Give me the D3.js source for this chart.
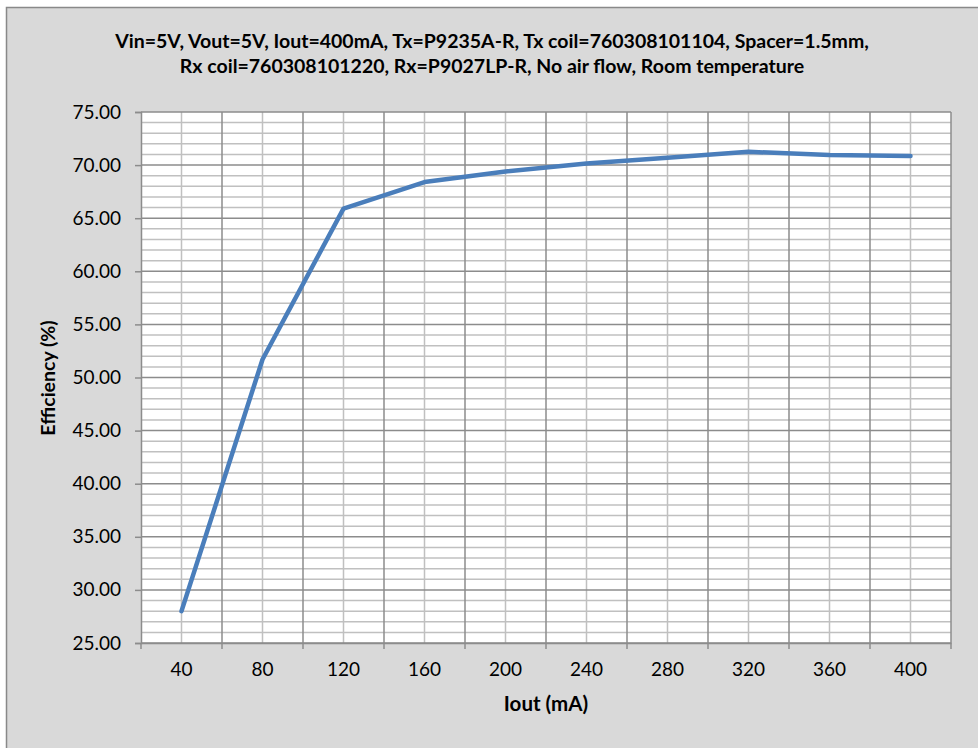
<!DOCTYPE html>
<html>
<head>
<meta charset="utf-8">
<script src="https://cdn.jsdelivr.net/npm/d3@7"></script>
<style>
  body { margin: 0; background: #fff; }
  text { font-family: Lato, "Open Sans", sans-serif; fill: #000; }
</style>
</head>
<body>
<svg id="chart" width="978" height="748"></svg>
<script>
// Data
const iout = [40, 80, 120, 160, 200, 240, 280, 320, 360, 400];
const efficiency = [28.0, 51.7, 65.9, 68.4, 69.4, 70.15, 70.7, 71.25, 70.95, 70.85];
const yTicks = [25, 30, 35, 40, 45, 50, 55, 60, 65, 70, 75];
const titleLines = [
    "Vin=5V, Vout=5V, Iout=400mA, Tx=P9235A-R, Tx coil=760308101104, Spacer=1.5mm,",
    "Rx coil=760308101220, Rx=P9027LP-R, No air flow, Room temperature"
];

const svg = d3.select("#chart");

const plot = { left: 141, right: 951, top: 112, bottom: 643 };

// chart area background + frame
svg.append("rect")
    .attr("x", 6.5).attr("y", 7.5)
    .attr("width", 990).attr("height", 760)
    .attr("fill", "#d9d9d9")
    .attr("stroke", "#898989")
    .attr("stroke-width", 1.5);

const x = d3.scaleBand()
    .domain(iout)
    .range([plot.left, plot.right])
    .padding(0);

const y = d3.scaleLinear()
    .domain([25, 75])
    .range([plot.bottom, plot.top]);

svg.append("rect")
    .attr("x", plot.left).attr("y", plot.top)
    .attr("width", plot.right - plot.left)
    .attr("height", plot.bottom - plot.top)
    .attr("fill", "#fff");

/*
/   Gridlines
*/

const minorY = d3.range(25, 75.01, 1);
svg.append("g")
    .selectAll("line")
    .data(minorY.filter(d => d % 5 != 0))
    .join("line")
    .attr("x1", plot.left).attr("x2", plot.right)
    .attr("y1", d => y(d)).attr("y2", d => y(d))
    .attr("stroke", "#c0c0c0")
    .attr("stroke-width", 1.5);

// light lines through each category centre
svg.append("g")
    .selectAll("line")
    .data(iout)
    .join("line")
    .attr("x1", d => x(d) + x.bandwidth() / 2)
    .attr("x2", d => x(d) + x.bandwidth() / 2)
    .attr("y1", plot.top).attr("y2", plot.bottom)
    .attr("stroke", "#c0c0c0")
    .attr("stroke-width", 1.5);

// dark lines on the category boundaries
svg.append("g")
    .selectAll("line")
    .data(iout.slice(1))
    .join("line")
    .attr("x1", d => x(d)).attr("x2", d => x(d))
    .attr("y1", plot.top).attr("y2", plot.bottom)
    .attr("stroke", "#8c8c8c")
    .attr("stroke-width", 1.5);

svg.append("g")
    .selectAll("line")
    .data(yTicks)
    .join("line")
    .attr("x1", plot.left).attr("x2", plot.right)
    .attr("y1", d => y(d)).attr("y2", d => y(d))
    .attr("stroke", "#8c8c8c")
    .attr("stroke-width", 1.5);

// right frame of plot
svg.append("line")
    .attr("x1", plot.right).attr("x2", plot.right)
    .attr("y1", plot.top).attr("y2", plot.bottom)
    .attr("stroke", "#8c8c8c")
    .attr("stroke-width", 1.5);

/*
/   Axes
*/

const yAxis = d3.axisLeft(y)
    .tickValues(yTicks)
    .tickSize(6)
    .tickPadding(14)
    .tickFormat(d3.format(".2f"));

const gy = svg.append("g")
    .attr("transform", `translate(${plot.left},0)`)
    .call(yAxis);

const xAxis = d3.axisBottom(x)
    .tickSize(0)
    .tickPadding(20);

const gx = svg.append("g")
    .attr("transform", `translate(0,${plot.bottom})`)
    .call(xAxis);

// x tick marks sit on category boundaries
gx.append("g")
    .selectAll("line")
    .data(iout.concat([null]))
    .join("line")
    .attr("x1", (d, i) => plot.left + i * x.bandwidth())
    .attr("x2", (d, i) => plot.left + i * x.bandwidth())
    .attr("y1", 0).attr("y2", 6)
    .attr("stroke", "#8c8c8c")
    .attr("stroke-width", 1.5);

[gx, gy].forEach(g => {
    g.select(".domain").attr("stroke", "#8c8c8c").attr("stroke-width", 1.5);
    g.selectAll(".tick line").attr("stroke", "#8c8c8c").attr("stroke-width", 1.5);
    g.selectAll(".tick text")
        .attr("font-family", "Lato, 'Open Sans', sans-serif")
        .attr("font-size", 19)
        .attr("fill", "#000");
});

/*
/   Series line
*/

const line = d3.line()
    .x((d, i) => x(iout[i]) + x.bandwidth() / 2)
    .y(d => y(d));

svg.append("path")
    .datum(efficiency)
    .attr("d", line)
    .attr("fill", "none")
    .attr("stroke", "#4a7ebb")
    .attr("stroke-width", 4.5)
    .attr("stroke-linejoin", "round")
    .attr("stroke-linecap", "round");

/*
/   Titles
*/

svg.append("g")
    .selectAll("text")
    .data(titleLines)
    .join("text")
    .attr("x", 492)
    .attr("y", (d, i) => 48 + i * 25)
    .attr("text-anchor", "middle")
    .attr("font-size", 19.5)
    .attr("font-weight", "bold")
    .text(d => d);

svg.append("text")
    .attr("transform", "translate(55,378) rotate(-90)")
    .attr("text-anchor", "middle")
    .attr("font-size", 19.5)
    .attr("font-weight", "bold")
    .text("Efficiency (%)");

svg.append("text")
    .attr("x", 546)
    .attr("y", 711)
    .attr("text-anchor", "middle")
    .attr("font-size", 20.5)
    .attr("font-weight", "bold")
    .text("Iout (mA)");
</script>
</body>
</html>
